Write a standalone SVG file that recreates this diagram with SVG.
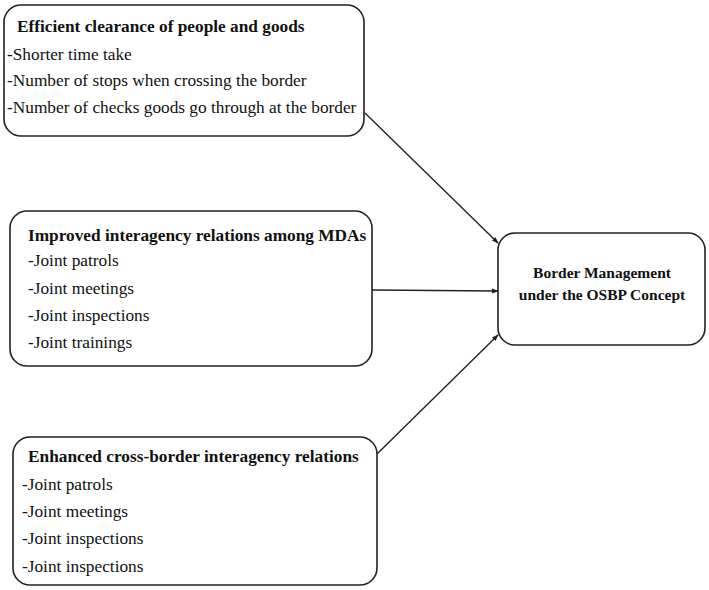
<svg xmlns="http://www.w3.org/2000/svg" width="709" height="590" viewBox="0 0 709 590">
<defs>
<marker id="ah" markerWidth="7" markerHeight="6" refX="6" refY="3" orient="auto" markerUnits="userSpaceOnUse">
<path d="M0,0.5 L7,3 L0,5.5 Z" fill="#222"/>
</marker>
</defs>
<style>
.box{fill:#fff;stroke:#222;stroke-width:1.6}
.t{font-family:"Liberation Serif","Times New Roman",serif;font-size:17.3px;fill:#111}
.b{font-weight:bold}
.s{font-size:15.5px}
.c{stroke:#222;stroke-width:1.4;fill:none}
</style>
<rect width="709" height="590" fill="#fff"/>
<g id="connectors">
<line class="c" x1="365" y1="113" x2="498" y2="243" marker-end="url(#ah)"/>
<line class="c" x1="372" y1="290" x2="498" y2="291" marker-end="url(#ah)"/>
<line class="c" x1="377" y1="454" x2="498" y2="335" marker-end="url(#ah)"/>
</g>
<g id="n1">
<rect class="box" x="4" y="5" width="360" height="131" rx="17"/>
<text class="t b" x="17" y="32">Efficient clearance of people and goods</text>
<text class="t" x="7" y="60">-Shorter time take</text>
<text class="t" x="7" y="86">-Number of stops when crossing the border</text>
<text class="t" x="7" y="113">-Number of checks goods go through at the border</text>
</g>
<g id="n2">
<rect class="box" x="10" y="211" width="362" height="155" rx="17"/>
<text class="t b" x="28" y="241">Improved interagency relations among MDAs</text>
<text class="t" x="28" y="266">-Joint patrols</text>
<text class="t" x="28" y="294">-Joint meetings</text>
<text class="t" x="28" y="321">-Joint inspections</text>
<text class="t" x="28" y="348">-Joint trainings</text>
</g>
<g id="n3">
<rect class="box" x="13" y="437" width="364" height="148" rx="17"/>
<text class="t b" x="28" y="462">Enhanced cross-border interagency relations</text>
<text class="t" x="22" y="490">-Joint patrols</text>
<text class="t" x="22" y="517">-Joint meetings</text>
<text class="t" x="22" y="544">-Joint inspections</text>
<text class="t" x="22" y="572">-Joint inspections</text>
</g>
<g id="n4">
<rect class="box" x="498" y="233" width="207" height="112" rx="17"/>
<text class="t b s" x="602" y="278" text-anchor="middle">Border Management</text>
<text class="t b s" x="602" y="300" text-anchor="middle">under the OSBP Concept</text>
</g>
</svg>
